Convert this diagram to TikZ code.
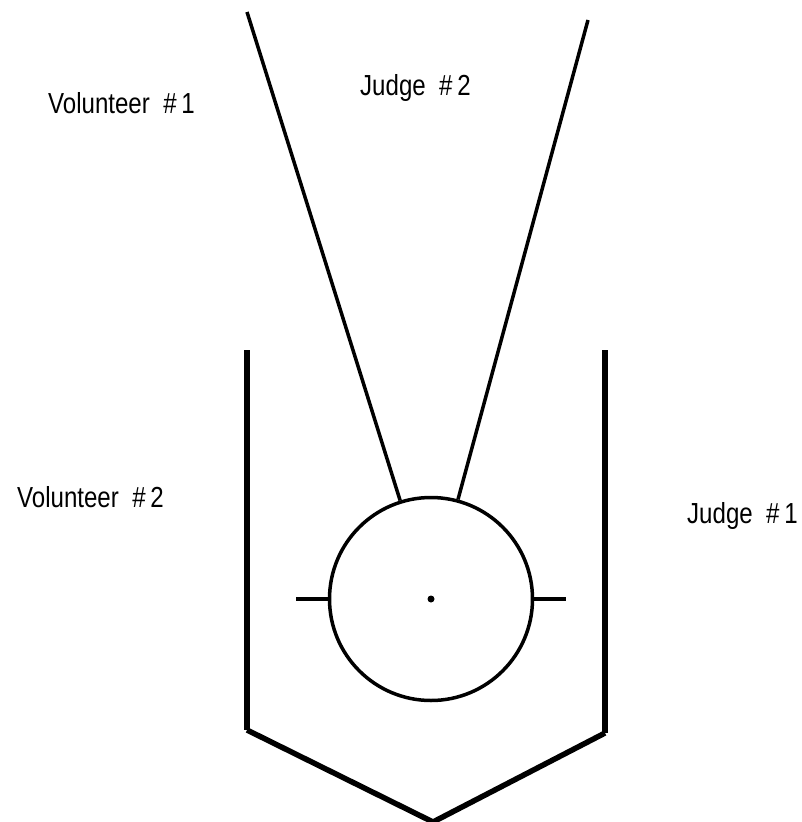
\documentclass[tikz,border=0pt]{standalone}
\usepackage{fontspec}
\newfontfamily\lblfont[FakeStretch=0.83]{Liberation Sans}

\begin{document}
\begin{tikzpicture}[x=1pt,y=-1pt,
  lbl/.style={anchor=base west,inner sep=0pt,font=\lblfont\fontsize{29}{32}\selectfont},
  wall/.style={line width=5.5pt},
  arm/.style={line width=3.5pt}]
\useasboundingbox (0,0) rectangle (801,822);

\node[lbl] (V1) at (48,113) {Volunteer \ \#\,1};
\node[lbl] (J2) at (360,95) {Judge \ \#\,2};
\node[lbl] (V2) at (17,507) {Volunteer \ \#\,2};
\node[lbl] (J1) at (687,523) {Judge \ \#\,1};

\node[circle,draw,line width=3.5pt,minimum size=203pt,inner sep=0pt] (ball) at (431,599) {};
\node[circle,fill,minimum size=7pt,inner sep=0pt] (dot) at (431,599) {};

\coordinate (topL) at (247,12);
\coordinate (topR) at (588,20);
\coordinate (tickL) at (296,599);
\coordinate (tickR) at (566,599);

\draw[arm] (topL) -- (ball);
\draw[arm] (topR) -- (ball);
\draw[arm] (tickL) -- (ball.west);
\draw[arm] (ball.east) -- (tickR);

\coordinate (wallL) at (247,350);
\coordinate (cornL) at (247,730);
\coordinate (tip) at (433,822);
\coordinate (cornR) at (605,733);
\coordinate (wallR) at (605,350);

\draw[wall] (wallL) -- (cornL);
\draw[wall] (wallR) -- (cornR);
\draw[wall] (cornL) -- (tip) -- (cornR);
\end{tikzpicture}
\end{document}
